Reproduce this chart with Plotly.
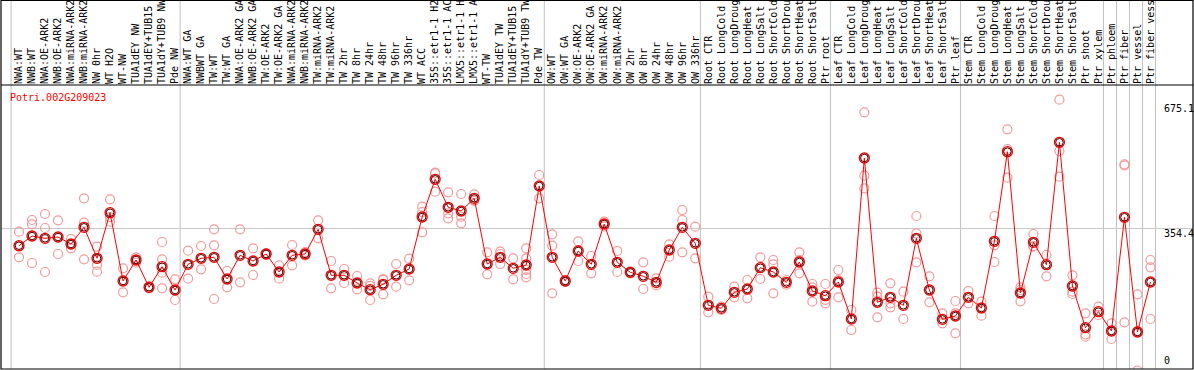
import plotly.graph_objects as go

title_text = "Potri.002G209023"

labels = [
    "NWA:WT", "NWB:WT", "NWA:OE-ARK2", "NWB:OE-ARK2", "NWA:miRNA-ARK2", "NWB:miRNA-ARK2",
    "NW 0hr", "WT H2O", "WT-NW", "TUA1dEY NW", "TUA1dEY+TUB15 NW", "TUA1dY+TUB9 NW", "Pde NW",
    "NWA:WT GA", "NWBWT GA", "TW:WT", "TW:WT GA", "NWA:OE-ARK2 GA", "NWB:OE-ARK2 GA",
    "TW:OE-ARK2", "TW:OE-ARK2 GA", "NWA:miRNA-ARK2 GA", "NWB:miRNA-ARK2 GA", "TW:miRNA-ARK2",
    "TW:miRNA-ARK2 GA", "TW 2hr", "TW 8hr", "TW 24hr", "TW 48hr", "TW 96hr", "TW 336hr",
    "WT ACC", "35S::etr1-1 H2O", "35S::etr1-1 ACC", "LMX5::etr1-1 H2O", "LMX5::etr1-1 ACC",
    "WT-TW", "TUA1dEY TW", "TUA1dEY+TUB15 TW", "TUA1dY+TUB9 TW", "Pde TW",
    "OW:WT", "OW:WT GA", "OW:OE-ARK2", "OW:OE-ARK2 GA", "OW:miRNA-ARK2", "OW:miRNA-ARK2 GA",
    "OW 2hr", "OW 8hr", "OW 24hr", "OW 48hr", "OW 96hr", "OW 336hr",
    "Root CTR", "Root LongCold", "Root LongDrought", "Root LongHeat", "Root LongSalt",
    "Root ShortCold", "Root ShortDrought", "Root ShortHeat", "Root ShortSalt", "Ptr root",
    "Leaf CTR", "Leaf LongCold", "Leaf LongDrought", "Leaf LongHeat", "Leaf LongSalt",
    "Leaf ShortCold", "Leaf ShortDrought", "Leaf ShortHeat", "Leaf ShortSalt", "Ptr leaf",
    "Stem CTR", "Stem LongCold", "Stem LongDrought", "Stem LongHeat", "Stem LongSalt",
    "Stem ShortCold", "Stem ShortDrought", "Stem ShortHeat", "Stem ShortSalt", "Ptr shoot",
    "Ptr xylem", "Ptr phloem", "Ptr fiber", "Ptr vessel", "Ptr fiber vessel",
]

means = [
    311.1, 335.2, 329.5, 332.7, 315.3, 356.9, 279.7, 393.3, 223.1, 275.4,
    207.4, 258.7, 200.6, 264.7, 279.7, 282.2, 228.1, 287.1, 272.9, 290.4,
    245.5, 287.1, 290.4, 351.9, 237.3, 237.3, 218.1, 201.4, 214.9, 237.3,
    253.0, 382.6, 476.6, 406.8, 397.6, 429.2, 265.4, 282.2, 254.7, 263.0,
    459.9, 282.2, 223.1, 297.9, 264.7, 365.1, 269.7, 244.8, 234.8, 219.8,
    300.3, 356.9, 317.0, 162.5, 155.0, 194.9, 203.1, 256.2, 245.5, 219.8,
    270.4, 198.2, 186.4, 220.6, 128.4, 529.7, 170.0, 182.5, 162.5, 329.5,
    200.6, 127.6, 135.8, 182.5, 155.8, 322.0, 545.4, 193.2, 319.5, 263.7,
    568.8, 210.6, 106.7, 146.6, 98.5, 381.9, 96.0, 220.6,
]

replicates = [
    [346.0, 308.6, 282.2], [375.1, 364.4, 267.9], [390.1, 355.2, 245.5], [374.4, 290.4],
    [327.8, 315.3, 304.6], [429.2, 368.4, 277.2], [308.6, 263.0, 246.3], [426.7, 382.3, 370.9],
    [254.7, 194.9], [282.2, 275.4, 268.6], [210.6, 204.9], [320.3, 277.2, 243.8, 204.9],
    [227.3, 175.7], [298.6, 228.8], [310.3, 252.2], [351.9, 312.1, 178.2],
    [248.0, 207.4], [351.9, 219.8], [304.6, 238.0], [292.1, 288.7],
    [262.2, 228.8], [312.8, 262.2], [295.0, 290.0, 286.0], [374.4, 329.5],
    [272.9, 204.9], [253.0, 218.1], [235.5, 202.4], [217.3, 211.0, 175.7],
    [228.1, 226.0, 189.9], [265.4, 208.9], [278.7, 224.8], [408.3, 395.0, 344.5],
    [493.0, 491.0, 445.7], [444.2, 391.8, 379.4], [439.9, 383.3, 366.9], [439.2, 425.0, 423.0],
    [294.6, 239.8], [296.1, 290.4, 265.4], [279.7, 227.3], [304.6, 279.7, 250.5, 240.5, 232.3],
    [487.3, 429.2], [339.5, 311.1, 192.4], [225.6, 221.0], [322.0, 272.9],
    [285.4, 242.3], [370.9, 365.0, 359.0], [297.9, 245.5], [247.0, 245.0, 242.0],
    [269.7, 203.1], [229.8, 217.3, 212.0], [314.6, 283.6], [400.0, 375.1, 294.6],
    [358.4, 279.7], [183.9, 145.1], [159.0, 150.8], [208.9, 182.5],
    [225.6, 180.0], [282.2, 228.1], [275.4, 264.7, 192.4], [225.6, 214.0],
    [294.6, 275.4, 242.3], [215.6, 207.0, 171.5], [215.6, 176.1, 167.5], [250.5, 225.6, 182.5],
    [150.8, 100.9], [643.6, 485.5, 454.1], [193.9, 183.9, 132.6], [217.3, 167.5, 157.5],
    [196.4, 128.4], [385.1, 342.0, 269.7], [234.8, 170.0], [142.6, 117.6],
    [173.2, 142.6, 92.7], [198.2, 167.5], [171.5, 136.6], [385.1, 312.1, 270.4],
    [601.2, 552.1, 480.6], [207.4, 200.6, 172.5], [340.2, 310.0, 308.6], [287.9, 234.8],
    [675.1, 547.1, 483.0], [237.3, 196.4, 190.7], [142.6, 90.2, 84.2], [159.0, 138.3],
    [117.6, 78.5], [514.1, 511.5, 120.1], [189.9, 98.0, 0.0], [275.4, 257.2, 128.4],
]

group_ends = [0, 13, 41, 53, 63, 73, 84, 85, 86, 87, 88]
axis_ticks = [675.1, 354.4, 0]

FONT = "DejaVu Sans Mono"
x = list(range(1, len(labels) + 1))
rep_x, rep_y = [], []
for i, reps in enumerate(replicates):
    for v in reps:
        rep_x.append(i + 1)
        rep_y.append(v)

fig = go.Figure()
fig.add_trace(go.Scatter(
    x=rep_x, y=rep_y, mode="markers", hoverinfo="skip",
    marker=dict(symbol="circle-open", size=9, color="#f29a9a", line=dict(width=1.2)),
))
fig.add_trace(go.Scatter(
    x=x, y=means, mode="lines+markers",
    line=dict(color="#ff0000", width=1),
    marker=dict(symbol="circle-open", size=10, color="#ee0000", line=dict(width=1.3)),
))
fig.add_trace(go.Scatter(
    x=x, y=means, mode="markers", hoverinfo="skip",
    marker=dict(symbol="circle-open", size=7.5, color="#400000", line=dict(width=1)),
))

# plot frame & label area frame
top_paper = (369 - 0.5) / 284
fig.add_shape(type="rect", xref="paper", yref="paper", x0=0, x1=1, y0=0, y1=top_paper,
              line=dict(color="black", width=1.2), layer="above")
fig.add_shape(type="line", xref="paper", yref="paper", x0=0, x1=1, y0=1, y1=1,
              line=dict(color="black", width=1.2), layer="above")
for k in group_ends:
    fig.add_shape(type="line", xref="x", yref="paper", x0=k + 0.39, x1=k + 0.39,
                  y0=0, y1=top_paper, line=dict(color="#c0c0c0", width=1), layer="below")

for v in axis_ticks:
    if v == 0:
        fig.add_annotation(
            xref="paper", x=(1163 - 1) / 1192, xanchor="left", yref="paper", y=0,
            yanchor="bottom", yshift=2, text="0", showarrow=False, borderpad=0,
            font=dict(family=FONT, size=10, color="black"),
        )
    else:
        fig.add_annotation(
            xref="paper", x=(1163 - 1) / 1192, xanchor="left", yref="y", y=v,
            yanchor="top", yshift=(-2 if v == max(axis_ticks) else 1),
            text=f"{v:g}", showarrow=False, borderpad=0,
            font=dict(family=FONT, size=10, color="black"),
        )

fig.update_layout(
    width=1194, height=370,
    margin=dict(l=1, r=1, t=85, b=1),
    paper_bgcolor="white", plot_bgcolor="white",
    showlegend=False,
    title=dict(text=title_text, xref="container", x=10 / 1194, xanchor="left",
               yref="container", y=1 - 97.5 / 370, yanchor="middle",
               font=dict(family=FONT, size=10, color="#ff0000")),
    xaxis=dict(
        side="top", range=[-0.384, 91.27], tickmode="array", tickvals=x, ticktext=labels,
        tickangle=-90, ticks="", showgrid=False, zeroline=False, showline=False,
        tickfont=dict(family=FONT, size=10, color="black"), automargin=False,
        ticklabelstandoff=0,
    ),
    yaxis=dict(
        range=[3.74, 711.6], tickmode="array", tickvals=[354.4], showticklabels=False,
        showgrid=True, gridcolor="#c8c8c8", gridwidth=1, zeroline=False, showline=False,
        ticks="", automargin=False,
    ),
)

fig.write_html(
    "out.html",
    config={"displayModeBar": False},
    post_script="document.body.style.margin='0';document.body.style.overflow='hidden';",
)
